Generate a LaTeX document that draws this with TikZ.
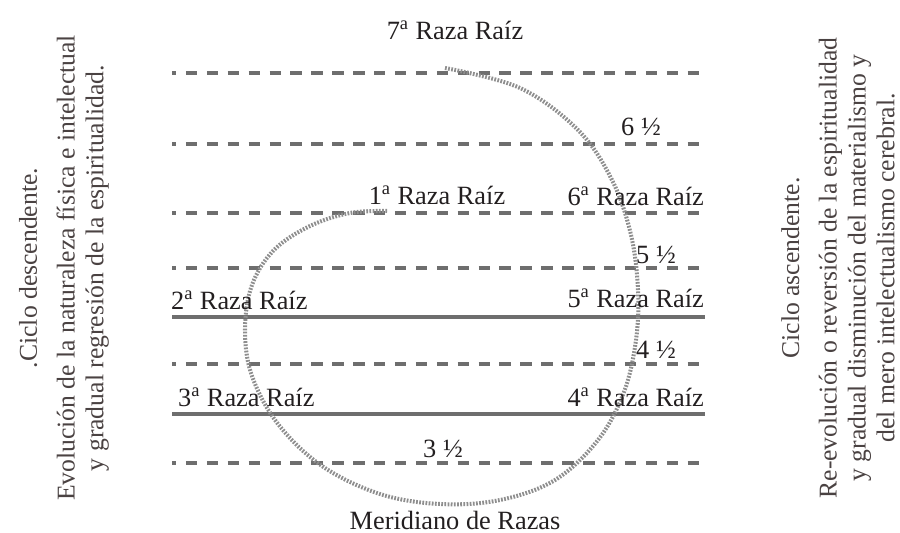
\documentclass[tikz,border=0pt]{standalone}
\usepackage{fontspec}
\setmainfont{Liberation Serif}
\usepackage{xcolor}
\usetikzlibrary{positioning}
\definecolor{rulegray}{HTML}{6E6E6E}
\definecolor{dotgray}{HTML}{8E8E8E}
\definecolor{inkdark}{HTML}{231F20}
\definecolor{sideink}{HTML}{4A4242}
\tikzset{
  razalabel/.style={
    font=\fontsize{15}{17}\selectfont,
    text=inkdark,
    inner sep=1pt
  },
  sidetext/.style={
    font=\fontsize{14.6}{16.4}\selectfont,
    text=sideink,
    rotate=90,
    align=center,
    inner sep=0pt
  },
  dashline/.style={
    draw=rulegray,
    line width=2.2pt,
    dash pattern=on 6.5pt off 5.4pt,
    dash phase=4pt
  },
  solidline/.style={
    draw=rulegray,
    line width=2pt
  },
  spiralpath/.style={
    draw=dotgray,
    line width=2.3pt,
    dash pattern=on 1pt off 0.8pt
  }
}

\begin{document}
\begin{tikzpicture}[x=0.02cm, y=-0.02cm]
    \useasboundingbox (0,0) rectangle (900,533);

    % rules of the races
    \foreach \y/\kind [count=\i] in {73/dashline, 144/dashline, 213/dashline, 268/dashline,
                                     317/solidline, 364/dashline, 414/solidline, 463/dashline} {
        \coordinate (w\i) at (172,\y);
        \coordinate (e\i) at (705,\y);
        \draw[\kind] (w\i) -- (e\i);
    }

    % the spiral
    \draw[spiralpath] plot[smooth, tension=0.6] coordinates {
        (445,68) (520,88) (578,130) (612,180) (631,235) (638,290) (636,340)
        (624,392) (598,440) (555,480) (500,500) (440,504) (380,494) (322,466)
        (278,424) (252,376) (245,330) (252,285) (274,250) (310,226) (350,213) (388,211)
    };

    % labels
    \node[razalabel] (r7) at (455,30) {7\textsuperscript{a} Raza Raíz};
    \node[razalabel] (h6) at (641,127) {6 ½};
    \node[razalabel] (r1) at (437,195) {1\textsuperscript{a} Raza Raíz};
    \node[razalabel, anchor=east] (r6) at (706,196) {6\textsuperscript{a} Raza Raíz};
    \node[razalabel] (h5) at (656,255) {5 ½};
    \node[razalabel, anchor=west] (r2) at (169,300) {2\textsuperscript{a} Raza Raíz};
    \node[razalabel, anchor=east] (r5) at (706,298) {5\textsuperscript{a} Raza Raíz};
    \node[razalabel] (h4) at (656,350) {4 ½};
    \node[razalabel, anchor=west] (r3) at (176,397) {3\textsuperscript{a} Raza Raíz};
    \node[razalabel, anchor=east] (r4) at (706,397) {4\textsuperscript{a} Raza Raíz};
    \node[razalabel] (h3) at (443,449) {3 ½};
    \node[razalabel] (mer) at (455,520) {Meridiano de Razas};

    % side columns
    \node[sidetext] (down) at (64,268) {.Ciclo descendente.\\[5pt]
        Evolución de la naturaleza física e intelectual\\
        y gradual regresión de la espiritualidad.};
    \node[sidetext] (up) at (838,268) {Ciclo ascendente.\\[5pt]
        Re-evolución o reversión de la espiritualidad\\
        y gradual disminución del materialismo y\\
        del mero intelectualismo cerebral.};
\end{tikzpicture}
\end{document}
